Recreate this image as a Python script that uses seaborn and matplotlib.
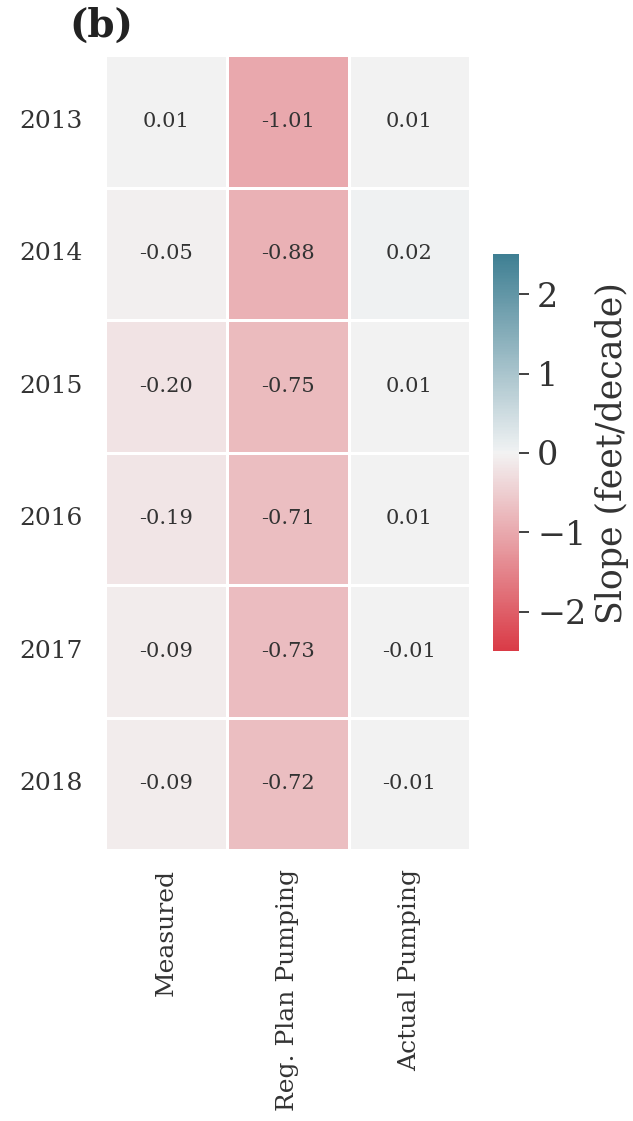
import numpy as np
import pandas as pd
import matplotlib
matplotlib.use("Agg")
import matplotlib.pyplot as plt
import seaborn as sns

years = ["2013", "2014", "2015", "2016", "2017", "2018"]
columns = ["Measured", "Reg. Plan Pumping", "Actual Pumping"]
measured = [0.01, -0.05, -0.20, -0.19, -0.09, -0.09]
reg_plan = [-1.01, -0.88, -0.75, -0.71, -0.73, -0.72]
actual = [0.01, 0.02, 0.01, 0.01, -0.01, -0.01]

df = pd.DataFrame({columns[0]: measured, columns[1]: reg_plan, columns[2]: actual}, index=years)

sns.set_theme(style="white")
plt.rcParams['font.family'] = ['DejaVu Serif', 'DejaVu Sans']

fig = plt.figure(figsize=(6.33, 11.21), dpi=100)
ax = fig.add_axes([0.166, 0.2417, 0.577, 0.709])
cax = fig.add_axes([0.779, 0.419, 0.041, 0.354])

cmap = sns.diverging_palette(10, 220, sep=2, as_cmap=True)
sns.heatmap(df, ax=ax, cbar_ax=cax, cmap=cmap, vmin=-2.5, vmax=2.5,
            annot=True, fmt=".2f", annot_kws={"size": 15, "color": "#333333"},
            linewidths=1, linecolor="white",
            cbar_kws={"label": "Slope (feet/decade)"})

ax.tick_params(axis="both", length=0, labelsize=18, colors="#333333")
ax.set_yticklabels(years, rotation=0)
ax.set_xticklabels(columns, rotation=90)
ax.tick_params(axis="y", pad=16)
ax.tick_params(axis="x", pad=14)

cax.tick_params(labelsize=24, length=7, width=1.3, colors="#333333", left=False, right=True, pad=6)
cax.set_ylabel("Slope (feet/decade)", fontsize=25, color="#333333", labelpad=6)
cax.set_yticks([-2, -1, 0, 1, 2])
for s in cax.spines.values():
    s.set_visible(False)

fig.text(0.11, 0.977, "(b)", fontsize=28, fontweight="bold", ha="left", va="center", color="#222222")

fig.savefig("out.png", dpi=100)
